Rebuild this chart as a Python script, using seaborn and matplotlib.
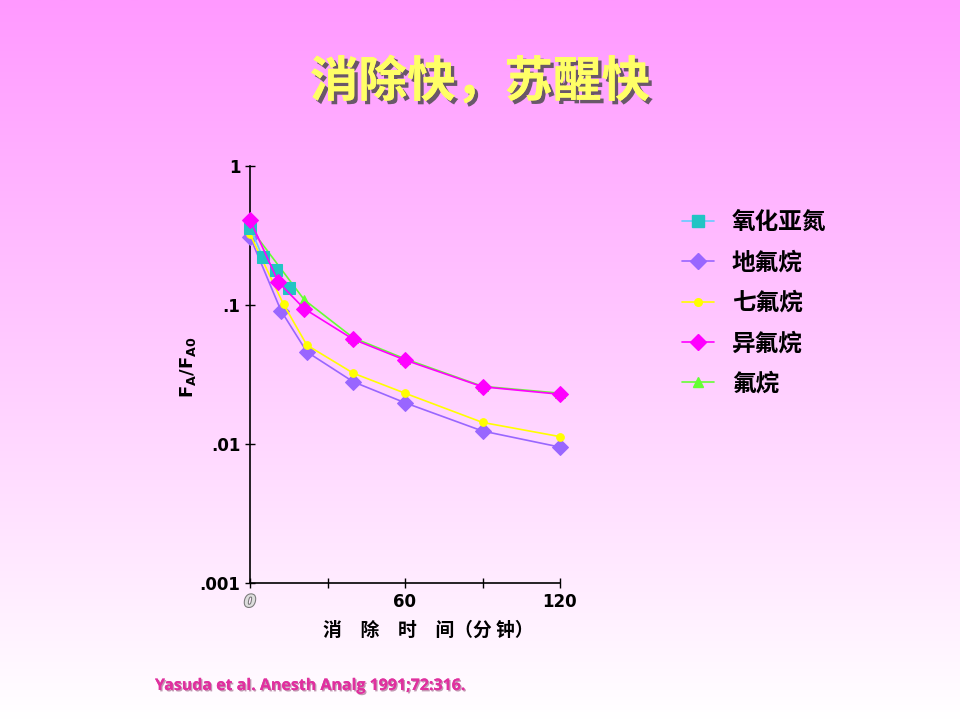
import numpy as np
import pandas as pd
import seaborn as sns
import matplotlib.pyplot as plt
import matplotlib.patheffects as pe
from matplotlib.colors import LinearSegmentedColormap

# ---- data (elimination time in minutes, FA/FA0) ----
labels = ["氧化亚氮", "地氟烷", "七氟烷", "异氟烷", "氟烷"]

n2o_t = [0, 5, 10, 15]
n2o_v = [0.36, 0.22, 0.179, 0.132]

des_t = [0, 12, 22, 40, 60, 90, 120]
des_v = [0.31, 0.091, 0.046, 0.028, 0.0198, 0.0124, 0.0095]

sev_t = [0, 13, 22, 40, 60, 90, 120]
sev_v = [0.323, 0.101, 0.0515, 0.0323, 0.0232, 0.0143, 0.0113]

iso_t = [0, 11, 21, 40, 60, 90, 120]
iso_v = [0.41, 0.146, 0.094, 0.0566, 0.0402, 0.0258, 0.0228]

hal_t = [0, 21, 40, 60, 90, 120]
hal_v = [0.36, 0.109, 0.058, 0.041, 0.026, 0.0232]

x_ticks = [0, 30, 60, 90, 120]
x_ticklabels = ["0", "", "60", "", "120"]
y_ticks = [0.001, 0.01, 0.1, 1]
y_ticklabels = [".001", ".01", ".1", "1"]

# name, t, values, line colour, marker colour, marker, size, zorder
series = [
    (labels[0], n2o_t, n2o_v, "#66CCFF", "#22C4C4", "s", 9, 5),
    (labels[1], des_t, des_v, "#9966FF", "#9966FF", "D", 8, 3),
    (labels[2], sev_t, sev_v, "#FFFF00", "#FFFF00", "o", 5.5, 4),
    (labels[3], iso_t, iso_v, "#FF00FF", "#FF00FF", "D", 8.5, 6),
    (labels[4], hal_t, hal_v, "#66FF33", "#66FF33", "^", 7, 2),
]

sns.set_style("ticks")
plt.rcParams["font.family"] = ["Noto Sans CJK SC", "DejaVu Sans"]
plt.rcParams["text.color"] = "black"
plt.rcParams["axes.labelcolor"] = "black"

fig = plt.figure(figsize=(9.6, 7.2), dpi=100)

# gradient slide background
bg = fig.add_axes([0, 0, 1, 1], zorder=-10)
cmap = LinearSegmentedColormap.from_list("slide", ["#FF99FF", "#FFFFFF"])
bg.imshow(np.linspace(0, 1, 256).reshape(-1, 1), aspect="auto", cmap=cmap,
          extent=[0, 1, 0, 1])
bg.axis("off")

ax = fig.add_axes([250 / 960, 1 - 583 / 720, 310 / 960, (583 - 166) / 720])
ax.set_facecolor("none")

handles = []
for name, t, v, lc, mc, mk, ms, z in series:
    df = pd.DataFrame({"t": t, "v": v})
    sns.lineplot(data=df, x="t", y="v", ax=ax, color=lc, linewidth=1.2,
                 marker=mk, markersize=ms, markerfacecolor=mc,
                 markeredgecolor=mc, clip_on=False, zorder=z)
    h, = ax.plot([], [], color=lc, linewidth=1.2, marker=mk, markersize=ms,
                 markerfacecolor=mc, markeredgecolor=mc)
    handles.append(h)

ax.set_yscale("log")
ax.set_xlim(0, 120)
ax.set_ylim(0.001, 1)
ax.set_xticks(x_ticks)
ax.set_xticklabels(x_ticklabels)
ax.set_yticks(y_ticks)
ax.set_yticklabels(y_ticklabels)
ax.minorticks_off()
for s in ["top", "right"]:
    ax.spines[s].set_visible(False)
for s in ["left", "bottom"]:
    ax.spines[s].set_color("black")
    ax.spines[s].set_linewidth(1.2)
ax.tick_params(axis="both", direction="inout", length=7, width=1,
               colors="black", labelsize=12)
for lab in ax.get_xticklabels() + ax.get_yticklabels():
    lab.set_fontweight("bold")
    lab.set_family(["DejaVu Sans"])
ax.get_xticklabels()[0].set_color("#DDDDDD")
ax.get_xticklabels()[0].set_style("italic")
ax.get_xticklabels()[0].set_path_effects([pe.withStroke(linewidth=1.5, foreground="#777777")])

ax.set_xlabel("消\u3000除\u3000时\u3000间（分 钟）", fontsize=13.5, fontweight="bold")
ax.xaxis.set_label_coords(0.574, -0.09)
ax.set_ylabel(r"$\mathbf{F_A/F_{A0}}$", fontsize=13)
ax.yaxis.set_label_coords(-0.168, 0.518)

fig.legend(handles, labels, loc="upper left", bbox_to_anchor=(661 / 960, 1 - 189 / 720),
           frameon=False, prop={"family": "Noto Sans CJK SC", "weight": "bold", "size": 17},
           handlelength=1.35, handletextpad=0.75, labelspacing=0.69)

fig.text(0.5, 1 - 82 / 720, "消除快，苏醒快", ha="center", va="center",
         fontsize=35, fontweight="bold", color="#FFFF66",
         path_effects=[pe.withSimplePatchShadow(offset=(2.5, -2.5),
                                                shadow_rgbFace="#444444", alpha=0.8),
                       pe.Normal()])

fig.text(155 / 960, 1 - 686 / 720, "Yasuda et al. Anesth Analg 1991;72:316.",
         ha="left", va="center", fontsize=11.5, fontweight="bold", color="#E0309F",
         family=["Open Sans", "DejaVu Sans"],
         path_effects=[pe.withSimplePatchShadow(offset=(1, -1),
                                                shadow_rgbFace="#883366", alpha=0.5),
                       pe.Normal()])

fig.savefig("out.png", dpi=100)
